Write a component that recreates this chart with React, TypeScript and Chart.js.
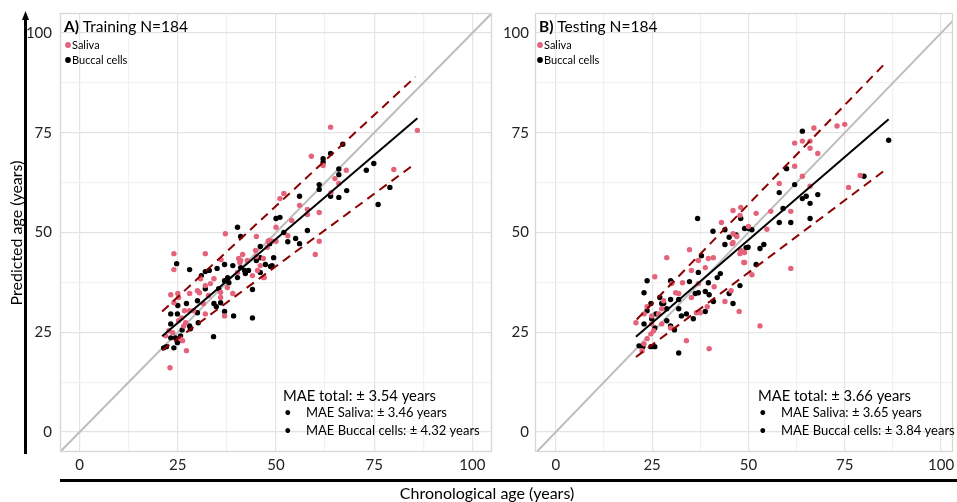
import React, { useEffect, useRef } from 'react';
import { Chart, registerables } from 'chart.js';

Chart.register(...registerables);

const FONT = 'Lato, "Open Sans", sans-serif';
const PINK = '#E5627B';
const BLACK = '#000000';

const tickValues = [0, 12.5, 25, 37.5, 50, 62.5, 75, 87.5, 100];
const majorTicks = [0, 25, 50, 75, 100];

const panelLetters = ['A)', 'B)'];
const panelTitles = ['Training N=184', 'Testing N=184'];
const legendLabels = ['Saliva', 'Buccal cells'];
const maeTotal = ['MAE total: \u00b1 3.54 years', 'MAE total: \u00b1 3.66 years'];
const maeSaliva = ['MAE Saliva: \u00b1 3.46 years', 'MAE Saliva: \u00b1 3.65 years'];
const maeBuccal = ['MAE Buccal cells: \u00b1 4.32 years', 'MAE Buccal cells: \u00b1 3.84 years'];
const xAxisTitle = 'Chronological age (years)';
const yAxisTitle = 'Predicted age (years)';

// Training (panel A)
const trainSaliva: [number, number][] = [
  [63.9, 76.4], [86, 75.6], [59, 69.1], [62, 66.8], [67.9, 65.6], [80, 65.8], [65, 63.5], [66, 62.3],
  [64, 60], [52, 59.8], [51, 58.5], [56, 56.8], [58, 55.8], [61, 55], [58, 54.5], [54, 53], [50, 51.3],
  [53, 49.2], [61, 47.8], [37.1, 49.7], [45, 49], [48, 47.8], [49, 47.8], [50, 47.8], [47.8, 46.3],
  [24, 44.7], [24, 40.7], [32, 44.7], [60, 44.5], [36, 43.2], [40.5, 43.5], [41.5, 44.5], [40.8, 42.5],
  [45, 44], [46, 41.7], [23, 16.1], [27.2, 20.4], [23.2, 34.4], [25, 34.7], [25.2, 33.7], [24, 32.4],
  [28, 34.7], [30, 35.4], [30.5, 34.9], [32, 36.7], [33.3, 37.2], [34.2, 38.4], [37.6, 36.2], [39, 34.7],
  [36.9, 29.1], [35.9, 33.7], [26.7, 30.4], [28, 30.4], [29, 30.4], [26, 28.6], [25.2, 27.9], [27, 27.4],
  [26.5, 26.6], [22.7, 25.4], [21.9, 24.1], [23.7, 24.9], [25.7, 23.4], [26.2, 22.9], [44, 39.2],
  [45.3, 40.5], [40.2, 40], [41, 43], [46.8, 38.7], [32, 29.6], [32.8, 34.2], [31.5, 32.2], [42.7, 43],
  [30.8, 38.4], [35.9, 35], [48.3, 48], [44.8, 45.5], [46.8, 43.5], [47, 38.7]
];
const trainBuccal: [number, number][] = [
  [67, 72.1], [63.9, 69.8], [62, 68.5], [62, 67.6], [66, 65.9], [66, 64.5], [73, 65.6], [74.9, 67.3],
  [61, 62], [61, 60.8], [68, 60.5], [63.9, 59.1], [66, 58.8], [79, 61.3], [76, 57], [56, 59.1], [50, 53.5],
  [51, 53.8], [52, 50], [58, 50.5], [40.2, 51.3], [41, 49], [55, 48.5], [56, 47.2], [53, 47.7], [46, 46.5],
  [48.4, 47.2], [24.7, 42.2], [28, 40.7], [31, 39.2], [32, 40.2], [33, 40.5], [35, 41], [36.9, 42],
  [39, 41.7], [41, 41.2], [42, 40.5], [43, 40.5], [42.2, 39.7], [40.2, 38.7], [37.7, 38.7], [36.9, 37.9],
  [38, 37.4], [46, 40], [47.3, 42], [49, 41.7], [49.4, 43.7], [45, 43], [35.4, 35.9], [32, 35.9],
  [30, 32.9], [27.2, 32.2], [25, 31.7], [23.2, 29.6], [24.9, 29.6], [30, 29.9], [34.2, 32.2], [34.8, 31.4],
  [35.9, 32.4], [36.9, 30.2], [39.2, 29.1], [44, 28.6], [44, 35.7], [23.2, 27.1], [26.1, 25.6], [28.2, 25.9],
  [30.2, 27.4], [34.1, 23.9], [21.4, 21.1], [22.1, 21.4], [24, 21.1], [23.2, 23.6], [24.4, 23.6],
  [25.2, 22.9], [25.7, 24.1], [24.9, 22.4], [28, 26.6], [48.6, 41.5], [46, 43.7]
];
const trainFit: [number, number][] = [[21, 24], [86, 78.6]];
const trainUpper: [number, number][] = [[21, 30.2], [85.5, 89]];
const trainLower: [number, number][] = [[21, 20.5], [85.5, 67.3]];

// Testing (panel B)
const testSaliva: [number, number][] = [
  [67, 76.2], [73, 76.7], [75, 77.1], [64, 72.9], [66, 72.9], [62, 72.4], [66, 71.1], [68, 69.8],
  [62, 66.6], [64, 64.1], [79, 64.3], [58, 62.3], [66, 61.6], [76, 61.3], [46, 55.5], [48, 56.3],
  [52, 54.8], [55.8, 55.3], [61, 55.3], [43, 52.5], [50, 51.5], [54.8, 50.8], [47, 49], [46, 47.5],
  [34.7, 45.7], [61, 41], [50.9, 39.4], [48.8, 42.5], [47.8, 44.7], [40.9, 43.7], [39.6, 43.5],
  [38.8, 41.2], [37, 43], [35.2, 40.5], [32.9, 37.4], [31.1, 34.9], [30.1, 37.2], [28.8, 43.7],
  [25.7, 38.9], [31.9, 34.7], [37, 37.2], [41.1, 36.4], [45.5, 35.4], [43.9, 32.7], [47.6, 30.2],
  [39.3, 31.4], [35.2, 33.7], [37.5, 29.9], [28, 32.9], [27.5, 30.9], [26.7, 29.6], [24.9, 29.1],
  [23.7, 31.4], [22.9, 29.6], [20.8, 27.4], [24.9, 27.1], [25.4, 25.4], [24.7, 24.6], [23.7, 23.4],
  [22.9, 22.1], [22.4, 20.4], [27.5, 27.1], [29.8, 26.1], [33.9, 22.9], [39.8, 20.9], [53, 26.6],
  [36.5, 29.9], [48, 45.5], [49, 45], [47.8, 54.3], [46, 49.7], [45.8, 47.2], [49, 42.5]
];
const testBuccal: [number, number][] = [
  [64, 75.4], [86.4, 73.1], [80, 64.1], [59.9, 66], [62, 62], [58, 60], [64, 58.5], [65, 59.1],
  [68, 59.5], [66, 57.3], [66, 53.5], [61, 52.5], [58, 52.5], [59, 56], [48, 53.5], [36.8, 53.5],
  [40.8, 50.3], [43.9, 50.7], [45, 48.8], [46.8, 49.4], [49, 51], [50, 51], [50.9, 50.7], [43.9, 47],
  [49.9, 46.3], [53, 46], [54, 47], [37.8, 44.2], [52, 42], [42.7, 39.7], [41.9, 38.7], [39.6, 37.4],
  [37, 40], [34.7, 37.7], [29.8, 37.9], [30.1, 37.4], [23.7, 37.9], [22.9, 34.9], [24.7, 32.2],
  [23.7, 30.4], [27, 33.7], [27.5, 32.2], [28, 32.2], [28.8, 30.9], [29.8, 33.2], [31.9, 33.2],
  [31.9, 30.9], [32.6, 29.1], [33.9, 29.6], [35.7, 28.4], [37, 34.9], [36.2, 34.7], [38.8, 35.2],
  [39.8, 34.4], [40.9, 32.7], [38.8, 30.2], [45, 34.7], [46, 32.2], [47.8, 36.7], [22.9, 27.1],
  [26, 29.6], [25.7, 26.1], [28.8, 27.9], [29.8, 26.6], [30.8, 25.6], [21.6, 21.6], [22.6, 21.4],
  [24.7, 21.4], [25.7, 21.4], [31.9, 19.8], [24.9, 28.4], [49.4, 46.2]
];
const testFit: [number, number][] = [[20.8, 23.9], [86.4, 78.4]];
const testUpper: [number, number][] = [[21, 28.2], [85.6, 92.5]];
const testLower: [number, number][] = [[20.8, 18.8], [85, 65.3]];

const identityLine: [number, number][] = [[-10, -10], [110, 110]];

const toXY = (arr: [number, number][]) => arr.map(([x, y]) => ({ x, y }));

function panelPlugin(i: number, legendDx: number) {
  return {
    id: 'panelDeco' + i,
    afterDraw(chart: any) {
      const { ctx, chartArea: a } = chart;
      ctx.save();
      // panel border
      ctx.strokeStyle = '#d6d6d6';
      ctx.lineWidth = 1.3;
      ctx.strokeRect(a.left + 0.5, a.top + 0.5, a.right - a.left - 1, a.bottom - a.top - 1);
      // title
      ctx.fillStyle = '#000';
      ctx.textBaseline = 'alphabetic';
      ctx.textAlign = 'left';
      ctx.font = 'bold 15.5px ' + FONT;
      ctx.fillText(panelLetters[i], a.left + 4, a.top + 19);
      const w = ctx.measureText(panelLetters[i] + ' ').width;
      ctx.font = '15.5px ' + FONT;
      ctx.fillText(panelTitles[i], a.left + 4 + w, a.top + 19);
      // legend
      const cols = [PINK, BLACK];
      [32, 47].forEach((dy, k) => {
        ctx.beginPath();
        ctx.fillStyle = cols[k];
        ctx.arc(a.left + legendDx, a.top + dy, 2.9, 0, Math.PI * 2);
        ctx.fill();
        ctx.fillStyle = '#000';
        ctx.font = '11px ' + FONT;
        ctx.textBaseline = 'middle';
        ctx.fillText(legendLabels[k], a.left + legendDx + 4, a.top + dy + 0.5);
      });
      // MAE annotation
      ctx.textBaseline = 'middle';
      ctx.font = '14.8px ' + FONT;
      ctx.fillText(maeTotal[i], a.left + 223, 396);
      ctx.font = '13px ' + FONT;
      ctx.fillText('\u2022', a.left + 224, 413);
      ctx.fillText(maeSaliva[i], a.left + 246, 413);
      ctx.fillText('\u2022', a.left + 224, 431);
      ctx.fillText(maeBuccal[i], a.left + 246, 431);
      ctx.restore();
    }
  };
}

const figurePlugin = {
  id: 'figureDeco',
  afterDraw(chart: any) {
    const { ctx } = chart;
    ctx.save();
    ctx.fillStyle = '#000';
    ctx.strokeStyle = '#000';
    // y arrow
    ctx.lineWidth = 3;
    ctx.beginPath();
    ctx.moveTo(25.5, 454);
    ctx.lineTo(25.5, 18);
    ctx.stroke();
    ctx.beginPath();
    ctx.moveTo(25.5, 11);
    ctx.lineTo(22, 20);
    ctx.lineTo(29, 20);
    ctx.closePath();
    ctx.fill();
    // x axis line
    ctx.beginPath();
    ctx.moveTo(60, 480.5);
    ctx.lineTo(957, 480.5);
    ctx.stroke();
    // labels
    ctx.font = '16px ' + FONT;
    ctx.textBaseline = 'alphabetic';
    ctx.textAlign = 'center';
    ctx.fillText(xAxisTitle, 487, 499);
    ctx.translate(22, 233);
    ctx.rotate(-Math.PI / 2);
    ctx.fillText(yAxisTitle, 0, 0);
    ctx.restore();
  }
};

function makeConfig(
  i: number,
  saliva: [number, number][],
  buccal: [number, number][],
  fit: [number, number][],
  upper: [number, number][],
  lower: [number, number][],
  xmin: number,
  xmax: number,
  padRight: number,
  yWidth: number,
  yPad: number,
  plugins: any[]
): any {
  const gridColor = (c: any) =>
    c.tick && majorTicks.includes(c.tick.value) ? '#e4e4e4' : '#f1f1f1';
  const tickFont = { family: FONT, size: 15 };
  const cb = (v: any) => (majorTicks.includes(Number(v)) ? String(v) : '');
  const setTicks = (s: any) => {
    s.ticks = tickValues.map((v) => ({ value: v }));
  };
  return {
    type: 'scatter',
    data: {
      datasets: [
        {
          data: toXY(identityLine), showLine: true, pointRadius: 0,
          borderColor: '#bdbdbd', borderWidth: 2, order: 3
        },
        {
          data: toXY(saliva), pointRadius: 2.7, backgroundColor: PINK,
          borderWidth: 0, order: 2
        },
        {
          data: toXY(buccal), pointRadius: 2.7, backgroundColor: BLACK,
          borderWidth: 0, order: 2
        },
        {
          data: toXY(upper), showLine: true, pointRadius: 0,
          borderColor: '#8B0000', borderWidth: 2, borderDash: [9, 6], order: 1
        },
        {
          data: toXY(lower), showLine: true, pointRadius: 0,
          borderColor: '#8B0000', borderWidth: 2, borderDash: [9, 6], order: 1
        },
        {
          data: toXY(fit), showLine: true, pointRadius: 0,
          borderColor: '#000', borderWidth: 2, order: 0
        }
      ]
    },
    options: {
      responsive: false,
      animation: false,
      events: [],
      layout: { padding: { left: 0, right: padRight, top: 13, bottom: 0 } },
      plugins: { legend: { display: false }, tooltip: { enabled: false } },
      scales: {
        x: {
          type: 'linear', min: xmin, max: xmax,
          afterBuildTicks: setTicks,
          afterFit: (s: any) => { s.height = 50; s.paddingLeft = 0; s.paddingRight = 0; },
          grid: { color: gridColor, lineWidth: 1.2, drawTicks: false },
          border: { display: false },
          ticks: { autoSkip: false, maxRotation: 0, padding: 4, color: '#222', font: tickFont, callback: cb }
        },
        y: {
          type: 'linear', min: -5, max: 105,
          afterBuildTicks: setTicks,
          afterFit: (s: any) => { s.width = yWidth; s.paddingTop = 0; s.paddingBottom = 0; },
          grid: { color: gridColor, lineWidth: 1.2, drawTicks: false },
          border: { display: false },
          ticks: { autoSkip: false, padding: yPad, color: '#222', font: tickFont, callback: cb }
        }
      }
    },
    plugins
  };
}

export default function App() {
  const refA = useRef<HTMLCanvasElement | null>(null);
  const refB = useRef<HTMLCanvasElement | null>(null);

  useEffect(() => {
    if (!refA.current || !refB.current) return;
    const chartA = new Chart(
      refA.current,
      makeConfig(0, trainSaliva, trainBuccal, trainFit, trainUpper, trainLower,
        -5, 105, 465, 60, 8, [figurePlugin, panelPlugin(0, 8)])
    );
    const chartB = new Chart(
      refB.current,
      makeConfig(1, testSaliva, testBuccal, testFit, testUpper, testLower,
        -5.4, 103.1, 0, 43, 6, [panelPlugin(1, 5)])
    );
    return () => {
      chartA.destroy();
      chartB.destroy();
    };
  }, []);

  return (
    <div style={{ position: 'absolute', left: 0, top: 0, width: 957, height: 502, background: '#fff', overflow: 'hidden' }}>
      <canvas ref={refA} width={957} height={502} style={{ position: 'absolute', left: 0, top: 0 }} />
      <canvas ref={refB} width={465} height={502} style={{ position: 'absolute', left: 492, top: 0 }} />
    </div>
  );
}
